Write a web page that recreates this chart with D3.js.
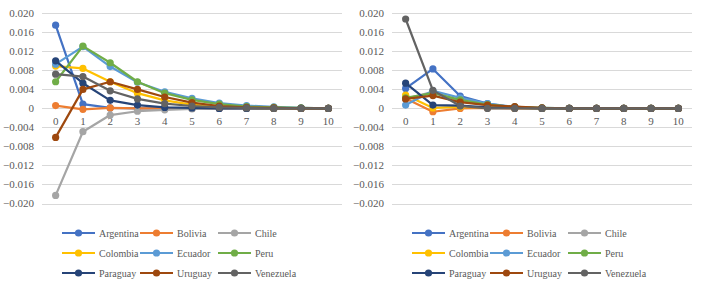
<!DOCTYPE html>
<html>
<head>
<meta charset="utf-8">
<script src="https://cdn.jsdelivr.net/npm/d3@7"></script>
<style>
  body { margin: 0; background: #fff; }
  svg text { font-family: "Times New Roman", "Liberation Serif", "DejaVu Serif", serif; }
</style>
</head>
<body>
<div id="chart"></div>
<script>
// periods and series
var periods = [0, 1, 2, 3, 4, 5, 6, 7, 8, 9, 10];
var countries = ["Argentina", "Bolivia", "Chile", "Colombia", "Ecuador", "Peru", "Paraguay", "Uruguay", "Venezuela"];
var colors = ["#4472C4", "#ED7D31", "#A5A5A5", "#FFC000", "#5B9BD5", "#70AD47", "#264478", "#9E480E", "#636363"];
var yTicks = [0.020, 0.016, 0.012, 0.008, 0.004, 0, -0.004, -0.008, -0.012, -0.016, -0.020];

// left panel
var leftArgentina = [0.0175, 0.0009, 0.0001, 0, 0, 0, 0, 0, 0, 0, 0];
var leftBolivia   = [0.0006, -0.0002, 0.0001, 0, 0, 0, 0, 0, 0, 0, 0];
var leftChile     = [-0.0183, -0.0049, -0.0014, -0.0006, -0.0003, -0.0001, 0, 0, 0, 0, 0];
var leftColombia  = [0.0089, 0.0084, 0.0056, 0.0032, 0.0017, 0.0008, 0.0003, 0.0001, 0, 0, 0];
var leftEcuador   = [0.0093, 0.0130, 0.0088, 0.0055, 0.0035, 0.0021, 0.0011, 0.0006, 0.0003, 0.0001, 0];
var leftPeru      = [0.0056, 0.0131, 0.0096, 0.0056, 0.0032, 0.0018, 0.0009, 0.0004, 0.0002, 0.0001, 0];
var leftParaguay  = [0.0100, 0.0053, 0.0017, 0.0007, 0.0002, 0.0001, 0, 0, 0, 0, 0];
var leftUruguay   = [-0.0061, 0.0040, 0.0056, 0.0040, 0.0024, 0.0012, 0.0005, 0.0002, 0.0001, 0, 0];
var leftVenezuela = [0.0072, 0.0067, 0.0037, 0.0020, 0.0010, 0.0005, 0.0002, 0.0001, 0, 0, 0];

// right panel
var rightArgentina = [0.0042, 0.0083, 0.0026, 0.0010, 0.0002, 0, 0, 0, 0, 0, 0];
var rightBolivia   = [0.0021, -0.0007, 0.0000, 0.0001, 0, 0, 0, 0, 0, 0, 0];
var rightChile     = [0.0020, 0.0035, 0.0015, 0.0007, 0.0002, 0, 0, 0, 0, 0, 0];
var rightColombia  = [0.0028, 0.0001, 0.0003, 0.0002, 0.0001, 0, 0, 0, 0, 0, 0];
var rightEcuador   = [0.0007, 0.0037, 0.0022, 0.0010, 0.0003, 0.0001, 0, 0, 0, 0, 0];
var rightPeru      = [0.0022, 0.0032, 0.0018, 0.0008, 0.0003, 0.0001, 0, 0, 0, 0, 0];
var rightParaguay  = [0.0053, 0.0007, 0.0006, 0.0002, 0.0001, 0, 0, 0, 0, 0, 0];
var rightUruguay   = [0.0020, 0.0027, 0.0013, 0.0007, 0.0004, 0.0001, 0, 0, 0, 0, 0];
var rightVenezuela = [0.0188, 0.0038, 0.0005, 0.0000, 0, 0, 0, 0, 0, 0, 0];

var leftSeries = [leftArgentina, leftBolivia, leftChile, leftColombia, leftEcuador, leftPeru, leftParaguay, leftUruguay, leftVenezuela];
var rightSeries = [rightArgentina, rightBolivia, rightChile, rightColombia, rightEcuador, rightPeru, rightParaguay, rightUruguay, rightVenezuela];

var svg = d3.select("#chart").append("svg")
    .attr("width", 704)
    .attr("height", 283);

function drawPanel(offsetX, seriesList) {
    var g = svg.append("g").attr("transform", "translate(" + offsetX + ",0)");

    var x = d3.scalePoint()
        .domain(periods)
        .range([42, 342])
        .padding(0.5);

    var y = d3.scaleLinear()
        .domain([-0.02, 0.02])
        .range([203.5, 13.3]);

    // gridlines
    g.selectAll(".grid")
        .data(yTicks)
        .enter().append("line")
        .attr("x1", 42).attr("x2", 342)
        .attr("y1", function (d) { return Math.round(y(d)) + 0.5; })
        .attr("y2", function (d) { return Math.round(y(d)) + 0.5; })
        .attr("stroke", "#d9d9d9")
        .attr("stroke-width", 1);

    // y labels
    g.selectAll(".ylab")
        .data(yTicks)
        .enter().append("text")
        .attr("x", 34)
        .attr("y", function (d) { return y(d); })
        .attr("dy", "0.35em")
        .attr("font-size", "11px")
        .attr("fill", "#595959")
        .style("text-anchor", "end")
        .text(function (d) { return d === 0 ? "0" : d.toFixed(3).replace("-", "\u2212"); });

    // x labels next to zero line
    g.selectAll(".xlab")
        .data(periods)
        .enter().append("text")
        .attr("x", function (d) { return x(d); })
        .attr("y", y(0) + 13)
        .attr("dy", "0.35em")
        .attr("font-size", "11px")
        .attr("fill", "#595959")
        .style("text-anchor", "middle")
        .text(function (d) { return d; });

    var line = d3.line()
        .x(function (d, i) { return x(periods[i]); })
        .y(function (d) { return y(d); });

    seriesList.forEach(function (vals, k) {
        var s = g.append("g");
        s.append("path")
            .attr("d", line(vals))
            .attr("fill", "none")
            .attr("stroke", colors[k])
            .attr("stroke-width", 2.2)
            .attr("stroke-linejoin", "round");
        s.selectAll("circle")
            .data(vals)
            .enter().append("circle")
            .attr("cx", function (d, i) { return x(periods[i]); })
            .attr("cy", function (d) { return y(d); })
            .attr("r", 3.6)
            .attr("fill", colors[k]);
    });

    // legend
    var colX = [62, 140, 218];
    var rowY = [233, 253, 273];
    countries.forEach(function (name, k) {
        var lx = colX[k % 3], ly = rowY[Math.floor(k / 3)];
        g.append("line")
            .attr("x1", lx).attr("x2", lx + 33)
            .attr("y1", ly).attr("y2", ly)
            .attr("stroke", colors[k])
            .attr("stroke-width", 2.2);
        g.append("circle")
            .attr("cx", lx + 16.5).attr("cy", ly)
            .attr("r", 3.6)
            .attr("fill", colors[k]);
        g.append("text")
            .attr("x", lx + 37)
            .attr("y", ly)
            .attr("dy", "0.35em")
            .attr("font-size", "10px")
            .attr("fill", "#595959")
            .text(name);
    });
}

drawPanel(0, leftSeries);
drawPanel(350, rightSeries);
</script>
</body>
</html>
